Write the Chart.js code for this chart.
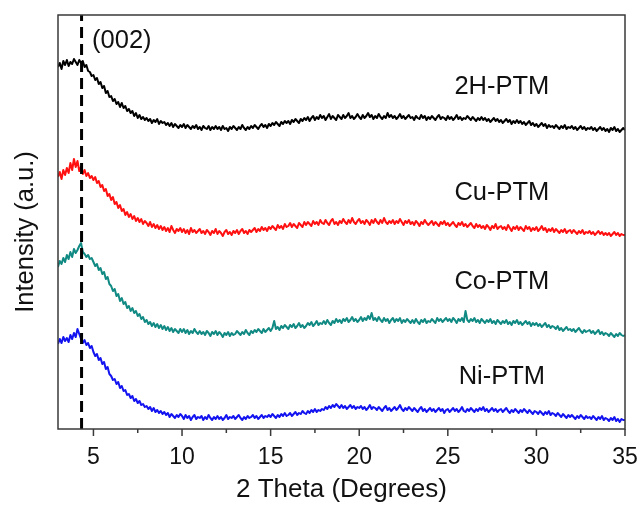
<!DOCTYPE html>
<html>
<head>
<meta charset="utf-8">
<script src="https://cdn.jsdelivr.net/npm/chart.js@4.4.1/dist/chart.umd.min.js"></script>
<style>
  html, body { margin: 0; padding: 0; background: #fff; }
  #xrd { display: block; }
</style>
</head>
<body>
<canvas id="xrd" width="644" height="516"></canvas>
<script>
(function () {
    'use strict';

    // scan grid: 3 to 35 degrees, 0.1 degree per step
    var thetaStart = 3;
    var thetaStep = 0.1;

    var majorTicks = [5, 10, 15, 20, 25, 30, 35];
    var minorTicks = [7.5, 12.5, 17.5, 22.5, 27.5, 32.5];
    var peak002 = 4.33;

    var sampleNames = ['2H-PTM', 'Cu-PTM', 'Co-PTM', 'Ni-PTM'];
    var sampleColors = ['#000000', '#ff1111', '#128a84', '#1414f0'];

    // offset-stacked intensities (a.u.), one row per degree
    var int2H = [
        362, 366, 360, 368, 364, 369, 363, 367, 365, 370,
        367, 364, 369, 366, 368, 362, 364, 358, 357, 353,
        354, 349, 351, 345, 347, 341, 343, 336, 338, 332,
        333, 328, 330, 325, 327, 322, 326, 321, 323, 318,
        320, 316, 318, 313, 316, 311, 314, 310, 312, 309,
        311, 308, 310, 306, 309, 307, 310, 305, 308, 306,
        307, 304, 306, 303, 306, 302, 305, 303, 301, 304,
        302, 305, 301, 304, 302, 300, 303, 301, 304, 300,
        302, 299, 303, 301, 300, 303, 299, 302, 300, 303,
        300, 302, 299, 303, 300, 301, 298, 302, 300, 303,
        301, 299, 302, 300, 304, 301, 299, 302, 300, 303,
        301, 304, 302, 300, 303, 305, 302, 304, 301, 305,
        303, 306, 304, 307, 305, 303, 307, 305, 308, 306,
        308, 305, 309, 307, 310, 308, 306, 310, 308, 311,
        309, 312, 308, 311, 313, 309, 312, 310, 314, 311,
        313, 309, 312, 315, 310, 313, 311, 309, 314, 312,
        310, 314, 311, 313, 316, 311, 313, 310, 312, 315,
        312, 310, 314, 311, 313, 316, 312, 314, 310, 313,
        311, 315, 312, 310, 313, 311, 316, 312, 314, 311,
        313, 310, 312, 315, 311, 313, 310, 312, 314, 311,
        312, 309, 313, 311, 310, 314, 311, 313, 309, 312,
        310, 313, 311, 309, 312, 314, 310, 312, 311, 309,
        313, 310, 312, 309, 311, 314, 310, 312, 309, 311,
        310, 313, 311, 309, 312, 310, 308, 311, 309, 312,
        309, 311, 308, 310, 307, 309, 311, 308, 310, 307,
        309, 306, 308, 310, 307, 309, 305, 308, 306, 309,
        306, 308, 305, 307, 304, 306, 308, 304, 306, 303,
        305, 302, 304, 306, 303, 305, 301, 304, 302, 303,
        301, 304, 302, 300, 303, 301, 304, 300, 302, 301,
        303, 300, 302, 299, 301, 303, 300, 302, 299, 301,
        300, 302, 299, 301, 298, 300, 302, 299, 301, 298,
        300, 297, 301, 299, 302, 298, 300, 297, 299, 301,
        299
    ];

    var intCu = [
        252, 257, 250, 259, 254, 261, 256, 266, 259, 270,
        262, 268, 258, 262, 255, 259, 253, 256, 251, 253,
        249, 252, 246, 248, 242, 244, 238, 240, 233, 235,
        229, 232, 225, 227, 221, 224, 218, 220, 214, 217,
        212, 215, 210, 213, 208, 211, 207, 210, 205, 208,
        206, 203, 207, 202, 205, 201, 204, 200, 203, 199,
        202, 198, 201, 197, 203, 199, 196, 200, 198, 201,
        197, 200, 196, 199, 195, 201, 197, 199, 196, 198,
        200, 196, 198, 195, 199, 197, 194, 198, 196, 200,
        195, 198, 196, 193, 197, 199, 195, 197, 194, 198,
        196, 199, 195, 198, 200, 196, 198, 195, 199, 197,
        199, 201, 197, 200, 198, 202, 199, 201, 198, 202,
        200, 203, 201, 199, 204, 201, 203, 200, 205, 202,
        203, 206, 202, 205, 203, 201, 206, 204, 202, 207,
        204, 207, 205, 203, 208, 205, 207, 204, 209, 206,
        205, 209, 206, 204, 208, 210, 205, 207, 204, 208,
        206, 210, 207, 205, 209, 206, 211, 207, 205, 208,
        210, 206, 208, 205, 209, 207, 204, 209, 206, 210,
        207, 205, 209, 206, 211, 207, 205, 208, 206, 209,
        205, 208, 206, 210, 207, 204, 208, 206, 209, 205,
        207, 204, 208, 206, 203, 207, 205, 209, 206, 204,
        206, 208, 204, 207, 205, 203, 207, 205, 208, 204,
        206, 203, 205, 207, 204, 202, 206, 204, 207, 203,
        205, 202, 204, 206, 203, 201, 205, 202, 204, 201,
        203, 200, 204, 202, 199, 203, 201, 205, 200, 202,
        203, 200, 202, 199, 204, 201, 198, 202, 200, 203,
        199, 202, 200, 198, 203, 200, 202, 198, 201, 199,
        202, 198, 200, 203, 199, 201, 197, 200, 198, 201,
        197, 200, 198, 196, 199, 197, 200, 196, 198, 199,
        196, 199, 197, 195, 198, 196, 199, 195, 197, 196,
        198, 195, 197, 194, 196, 198, 195, 197, 194, 196,
        194, 196, 193, 195, 197, 194, 196, 193, 195, 194,
        194
    ];

    var intCo = [
        162, 168, 165, 171, 167, 174, 170, 177, 172, 180,
        176, 179, 183, 186, 177, 175, 172, 174, 170, 171,
        167, 163, 165, 159, 161, 155, 157, 150, 152, 145,
        143, 138, 140, 133, 135, 128, 131, 125, 127, 121,
        123, 118, 121, 116, 118, 113, 115, 110, 112, 107,
        109, 105, 107, 103, 106, 102, 105, 101, 104, 100,
        103, 99, 102, 98, 101, 97, 100, 98, 96, 100,
        97, 100, 96, 99, 95, 98, 96, 100, 97, 95,
        98, 95, 97, 94, 98, 96, 93, 97, 95, 98,
        94, 97, 95, 92, 96, 94, 97, 93, 96, 94,
        95, 98, 96, 94, 97, 95, 99, 96, 94, 98,
        96, 99, 97, 100, 98, 96, 100, 97, 99, 101,
        98, 101, 108, 100, 102, 99, 103, 101, 104, 102,
        100, 104, 102, 105, 101, 103, 106, 102, 104, 101,
        103, 106, 104, 107, 103, 105, 108, 104, 106, 105,
        108, 105, 109, 106, 104, 108, 106, 110, 107, 109,
        106, 110, 108, 111, 107, 109, 112, 108, 110, 107,
        109, 112, 108, 111, 109, 113, 110, 116, 109, 111,
        108, 112, 109, 107, 111, 108, 110, 106, 109, 111,
        107, 110, 108, 111, 106, 109, 107, 110, 108, 106,
        109, 106, 110, 107, 105, 109, 107, 110, 106, 108,
        107, 110, 108, 106, 111, 108, 110, 107, 109, 111,
        108, 110, 107, 111, 109, 106, 110, 108, 111, 107,
        118, 109, 107, 110, 108, 111, 107, 109, 106, 110,
        108, 106, 109, 107, 110, 106, 108, 105, 109, 107,
        105, 108, 106, 109, 105, 107, 104, 108, 106, 109,
        105, 107, 104, 106, 108, 105, 107, 103, 106, 104,
        106, 103, 105, 102, 104, 106, 102, 104, 101, 103,
        102, 100, 103, 99, 101, 98, 100, 102, 99, 100,
        98, 100, 97, 99, 101, 98, 96, 99, 97, 98,
        99, 96, 98, 95, 97, 99, 95, 97, 94, 96,
        95, 93, 96, 94, 92, 95, 93, 96, 94, 93,
        94
    ];

    var intNi = [
        85, 90, 86, 92, 88, 91, 87, 94, 90, 96,
        92, 100, 95, 90, 86, 89, 84, 86, 81, 83,
        77, 73, 75, 69, 71, 65, 67, 60, 62, 55,
        53, 49, 50, 45, 47, 41, 43, 38, 39, 34,
        35, 31, 33, 28, 30, 26, 28, 24, 25, 22,
        23, 20, 22, 18, 21, 17, 19, 16, 18, 15,
        17, 14, 16, 12, 15, 13, 11, 14, 12, 15,
        13, 10, 14, 11, 13, 9, 12, 14, 10, 12,
        11, 13, 9, 12, 10, 14, 11, 9, 12, 10,
        13, 10, 12, 9, 11, 14, 10, 12, 11, 13,
        10, 12, 14, 11, 9, 12, 10, 13, 11, 12,
        14, 11, 13, 10, 12, 14, 11, 13, 12, 14,
        12, 15, 13, 11, 14, 12, 15, 13, 16, 13,
        14, 16, 13, 15, 17, 14, 16, 15, 18, 16,
        15, 18, 16, 19, 17, 20, 17, 19, 18, 20,
        19, 22, 20, 23, 21, 24, 22, 25, 23, 21,
        24, 21, 23, 20, 22, 24, 21, 23, 20, 22,
        21, 23, 20, 22, 19, 21, 24, 20, 22, 21,
        19, 22, 20, 18, 21, 23, 19, 21, 18, 20,
        22, 19, 21, 24, 20, 18, 21, 19, 22, 20,
        18, 21, 19, 17, 20, 22, 18, 20, 17, 19,
        21, 18, 20, 17, 19, 21, 18, 20, 16, 19,
        20, 17, 19, 21, 18, 20, 17, 19, 22, 18,
        17, 20, 18, 21, 19, 17, 20, 18, 21, 19,
        22, 18, 20, 17, 19, 21, 18, 20, 17, 19,
        20, 17, 19, 21, 18, 16, 19, 17, 20, 18,
        16, 19, 17, 20, 18, 16, 19, 17, 15, 18,
        17, 15, 18, 16, 14, 17, 15, 18, 14, 16,
        15, 13, 16, 14, 12, 15, 13, 11, 14, 12,
        14, 12, 10, 13, 11, 14, 12, 10, 13, 11,
        12, 10, 13, 11, 9, 12, 10, 13, 9, 11,
        10, 8, 11, 9, 12, 8, 10, 7, 10, 9,
        9
    ];

    var sampleSeries = [int2H, intCu, intCo, intNi];

    // where each sample name sits, in data units
    var labelTheta = 28.05;
    var labelLevels = [342, 236, 147, 52];

    var FONT = '"Liberation Sans", Arial, Helvetica, sans-serif';
    var AXIS_COLOR = '#3a3a3a';

    function toPoints(values) {
        return values.map(function (v, i) {
            return { x: Math.round((thetaStart + i * thetaStep) * 10) / 10, y: v };
        });
    }

    var datasets = [{
        label: '(002)',
        data: [{ x: peak002, y: 0 }, { x: peak002, y: 414 }],
        borderColor: '#000',
        borderWidth: 3,
        borderDash: [11, 6]
    }];
    sampleSeries.forEach(function (vals, i) {
        datasets.push({
            label: sampleNames[i],
            data: toPoints(vals),
            borderColor: sampleColors[i],
            borderWidth: 2
        });
    });

    // box frame, outward ticks and the text labels
    var decorations = {
        id: 'decorations',
        afterDatasetsDraw: function (chart) {
            var ctx = chart.ctx;
            var area = chart.chartArea;
            var xs = chart.scales.x;
            var ys = chart.scales.y;

            ctx.save();
            ctx.strokeStyle = AXIS_COLOR;
            ctx.lineWidth = 1.5;
            ctx.strokeRect(area.left, area.top, area.right - area.left, area.bottom - area.top);

            ctx.beginPath();
            majorTicks.forEach(function (v) {
                var px = xs.getPixelForValue(v);
                ctx.moveTo(px, area.bottom);
                ctx.lineTo(px, area.bottom + 7);
            });
            minorTicks.forEach(function (v) {
                var px = xs.getPixelForValue(v);
                ctx.moveTo(px, area.bottom);
                ctx.lineTo(px, area.bottom + 4);
            });
            ctx.stroke();

            ctx.fillStyle = '#111';
            ctx.textBaseline = 'middle';
            ctx.font = '25.5px ' + FONT;
            ctx.textAlign = 'center';
            sampleNames.forEach(function (name, i) {
                ctx.fillText(name, xs.getPixelForValue(labelTheta), ys.getPixelForValue(labelLevels[i]));
            });

            ctx.textAlign = 'left';
            ctx.fillText('(002)', xs.getPixelForValue(4.92), ys.getPixelForValue(388));

            ctx.translate(26, ys.getPixelForValue(197));
            ctx.rotate(-Math.PI / 2);
            ctx.textAlign = 'center';
            ctx.font = '25.5px ' + FONT;
            ctx.fillText('Intensity (a.u.)', 0, 0);
            ctx.restore();
        }
    };

    new Chart(document.getElementById('xrd').getContext('2d'), {
        type: 'line',
        data: { datasets: datasets },
        options: {
            responsive: false,
            animation: false,
            events: [],
            layout: { padding: { top: 15, right: 19, left: 0, bottom: 0 } },
            elements: {
                point: { radius: 0 },
                line: { tension: 0, borderJoinStyle: 'round' }
            },
            plugins: {
                legend: { display: false },
                tooltip: { enabled: false }
            },
            scales: {
                x: {
                    type: 'linear',
                    min: 3,
                    max: 35,
                    grid: { display: false, drawTicks: false },
                    border: { display: false },
                    afterBuildTicks: function (scale) {
                        scale.ticks = majorTicks.map(function (v) { return { value: v }; });
                    },
                    afterFit: function (scale) {
                        scale.height = 87;
                        scale.paddingLeft = 0;
                        scale.paddingRight = 0;
                    },
                    ticks: {
                        autoSkip: false,
                        maxRotation: 0,
                        padding: 15,
                        color: '#111',
                        font: { family: FONT, size: 23 }
                    },
                    title: {
                        display: true,
                        text: '2 Theta (Degrees)',
                        color: '#111',
                        font: { family: FONT, size: 26 },
                        padding: { top: 0, bottom: 11 }
                    }
                },
                y: {
                    min: 0,
                    max: 414,
                    grid: { display: false, drawTicks: false },
                    border: { display: false },
                    ticks: { display: false },
                    afterFit: function (scale) { scale.width = 58; }
                }
            }
        },
        plugins: [decorations]
    });
}());
</script>
</body>
</html>
